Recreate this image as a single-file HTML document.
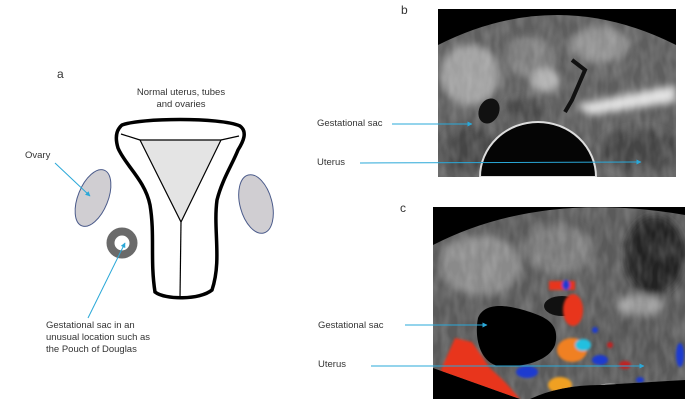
<!DOCTYPE html>
<html><head><meta charset="utf-8"><style>
html,body{margin:0;padding:0;background:#fff;}
body{width:697px;height:409px;overflow:hidden;position:relative;font-family:"Liberation Sans",sans-serif;}
</style></head><body>
<svg width="697" height="409" viewBox="0 0 697 409" xmlns="http://www.w3.org/2000/svg" style="position:absolute;left:0;top:0">
<defs>
<marker id="ah" viewBox="0 0 10 10" refX="9" refY="5" markerWidth="5" markerHeight="5" orient="auto"><path d="M0,0 L10,5 L0,10 z" fill="#2aa8d8"/></marker>
<filter id="bl" x="-20%" y="-20%" width="140%" height="140%"><feGaussianBlur stdDeviation="4"/></filter>
<filter id="bl2"><feGaussianBlur stdDeviation="1.2"/></filter>
<filter id="tx" x="0" y="0" width="100%" height="100%"><feTurbulence type="fractalNoise" baseFrequency="0.12 0.05" numOctaves="2" seed="3"/><feColorMatrix type="matrix" values="0 0 0 0 1 0 0 0 0 1 0 0 0 0 1 1.2 0 0 0 -0.35"/></filter>
<clipPath id="cb"><path d="M438,45 Q557,-15 676,45 L676,177 L438,177 Z"/></clipPath>
<clipPath id="cc"><path d="M433,245 Q540,190 685,215 L685,380 L600,385 Q560,385 530,399 L520,399 L433,368 Z"/></clipPath>
</defs>
<g font-size="9.5" fill="#333">
<text x="57" y="78" font-size="12">a</text>
<text x="181" y="95" text-anchor="middle">Normal uterus, tubes</text>
<text x="181" y="107" text-anchor="middle">and ovaries</text>
<text x="25" y="158">Ovary</text>
<text x="46" y="328">Gestational sac in an</text>
<text x="46" y="340">unusual location such as</text>
<text x="46" y="352">the Pouch of Douglas</text>
<text x="401" y="14" font-size="12">b</text>
<text x="400" y="212" font-size="12">c</text>
<text x="317" y="126">Gestational sac</text>
<text x="317" y="165">Uterus</text>
<text x="318" y="328">Gestational sac</text>
<text x="318" y="367">Uterus</text>
</g>
<!-- uterus -->
<path d="M122,125 C140,118 220,117 240,126 C248,132 243,142 238,150 C232,165 222,180 217,200 C213,230 222,260 212,290 C200,300 165,300 155,292 C150,260 155,235 150,205 C145,180 125,165 118,148 C115,138 116,130 122,125 Z" fill="#fff" stroke="#000" stroke-width="3.5"/>
<path d="M140,140 L221,140 L181,222 Z" fill="#e4e4e4" stroke="#000" stroke-width="1.2"/>
<line x1="121" y1="134" x2="140" y2="140" stroke="#000" stroke-width="1.2"/>
<line x1="221" y1="140" x2="239" y2="136" stroke="#000" stroke-width="1.2"/>
<line x1="181" y1="222" x2="180" y2="298" stroke="#000" stroke-width="1.2"/>
<ellipse cx="93" cy="198" rx="15" ry="30" transform="rotate(22 93 198)" fill="#d0ced2" stroke="#4a5a8a" stroke-width="1"/>
<ellipse cx="256" cy="204" rx="16" ry="30" transform="rotate(-15 256 204)" fill="#d0ced2" stroke="#4a5a8a" stroke-width="1"/>
<circle cx="122" cy="243" r="11.5" fill="none" stroke="#6a6a6a" stroke-width="8"/>
<line x1="55" y1="163" x2="90" y2="196" stroke="#2aa8d8" stroke-width="1" marker-end="url(#ah)"/>
<line x1="88" y1="318" x2="125" y2="243" stroke="#2aa8d8" stroke-width="1" marker-end="url(#ah)"/>
<!-- image b -->
<rect x="438" y="9" width="238" height="168" fill="#000"/>
<g clip-path="url(#cb)">
<rect x="438" y="0" width="238" height="177" fill="#5e5e5e"/>
<g filter="url(#bl)">
<ellipse cx="470" cy="75" rx="30" ry="30" fill="#a0a0a0"/>
<ellipse cx="530" cy="55" rx="25" ry="20" fill="#7c7c7c"/>
<ellipse cx="600" cy="45" rx="30" ry="18" fill="#909090"/>
<ellipse cx="545" cy="80" rx="15" ry="12" fill="#b0b0b0"/>
<path d="M575,105 L676,85 L676,102 L590,115 Z" fill="#e0e0e0"/>
<ellipse cx="640" cy="150" rx="40" ry="22" fill="#444"/>
<ellipse cx="470" cy="150" rx="30" ry="22" fill="#444"/>
<ellipse cx="525" cy="110" rx="20" ry="12" fill="#4a4a4a"/>
</g>
<rect x="438" y="0" width="238" height="177" filter="url(#tx)" opacity="0.25"/>
<path d="M572,60 L585,70 L572,100 L565,112" stroke="#111" stroke-width="4" fill="none"/>
<ellipse cx="489" cy="111" rx="10" ry="13" fill="#111" transform="rotate(25 489 111)"/>
<path d="M480,177 A58,55 0 0 1 596,177 Z" fill="#050505" stroke="#ddd" stroke-width="2"/>
</g>
<!-- image c -->
<rect x="433" y="207" width="252" height="192" fill="#000"/>
<g clip-path="url(#cc)">
<rect x="433" y="190" width="252" height="209" fill="#5a5a5a"/>
<g filter="url(#bl)">
<ellipse cx="480" cy="265" rx="40" ry="30" fill="#8a8a8a"/>
<ellipse cx="560" cy="250" rx="35" ry="25" fill="#7a7a7a"/>
<ellipse cx="655" cy="255" rx="30" ry="40" fill="#222"/>
<ellipse cx="630" cy="345" rx="40" ry="30" fill="#555"/>
<ellipse cx="640" cy="305" rx="25" ry="10" fill="#999"/>
</g>
<rect x="433" y="190" width="252" height="209" filter="url(#tx)" opacity="0.25"/>
<path d="M478,318 C485,300 512,306 530,312 C548,318 560,325 555,345 C548,363 518,368 498,366 C480,362 474,338 478,318 Z" fill="#000"/>
<ellipse cx="562" cy="306" rx="18" ry="10" fill="#111"/>
<g filter="url(#bl2)">
<path d="M455,338 L472,342 L490,368 L505,382 L520,399 L455,399 L440,372 Z" fill="#e8361a"/>
<rect x="549" y="281" width="26" height="9" fill="#e8361a"/>
<ellipse cx="566" cy="285" rx="4" ry="5" fill="#1a3ad0"/>
<ellipse cx="573" cy="310" rx="10" ry="16" fill="#e8361a"/>
<ellipse cx="572" cy="350" rx="15" ry="12" fill="#f08020"/>
<ellipse cx="527" cy="372" rx="11" ry="6" fill="#1a3ad0"/>
<ellipse cx="583" cy="345" rx="8" ry="6" fill="#20c0e0"/>
<ellipse cx="600" cy="360" rx="8" ry="5" fill="#1a3ad0"/>
<ellipse cx="625" cy="365" rx="6" ry="4" fill="#c02020"/>
<ellipse cx="560" cy="385" rx="12" ry="8" fill="#f0a020"/>
<ellipse cx="680" cy="355" rx="4" ry="12" fill="#1a3ad0"/>
<ellipse cx="610" cy="345" rx="3" ry="3" fill="#c02020"/>
<ellipse cx="640" cy="380" rx="4" ry="3" fill="#1a3ad0"/>
<ellipse cx="595" cy="330" rx="3" ry="3" fill="#1a3ad0"/>
</g>
<path d="M588,399 A22,15 0 0 1 632,399 Z" fill="#050505" stroke="#bbb" stroke-width="1"/>
</g>
<line x1="392" y1="124" x2="472" y2="124" stroke="#2aa8d8" stroke-width="1" marker-end="url(#ah)"/>
<line x1="360" y1="163" x2="641" y2="162" stroke="#2aa8d8" stroke-width="1" marker-end="url(#ah)"/>
<line x1="405" y1="325" x2="487" y2="325" stroke="#2aa8d8" stroke-width="1" marker-end="url(#ah)"/>
<line x1="371" y1="366" x2="644" y2="366" stroke="#2aa8d8" stroke-width="1" marker-end="url(#ah)"/>
</svg>
</body></html>
